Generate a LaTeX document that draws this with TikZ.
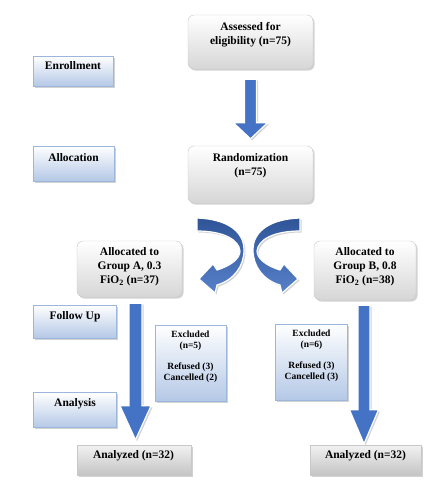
\documentclass[tikz,border=0pt]{standalone}
\usepackage{fontspec}
\setmainfont{Liberation Serif}
\usetikzlibrary{calc,shadows}
\definecolor{arrowblue}{HTML}{4472C4}
\definecolor{arrowdark}{HTML}{2F5597}
\definecolor{boxline}{HTML}{C8C8C8}
\definecolor{boxgraybot}{HTML}{D6D6D6}
\definecolor{recttop}{HTML}{F2F2F2}
\definecolor{rectbot}{HTML}{C4C4C4}
\definecolor{bluetop}{HTML}{FFFFFF}
\definecolor{bluebot}{HTML}{B4C8E6}
\definecolor{blueline}{HTML}{9DB6DC}
\newcommand\vblockarrow[6]{%
  \path[#1] let \p1=(#2), \p2=(#3) in
    (\x1-#4,\y1) -- (\x1+#4,\y1) -- (\x1+#4,\y2+#6) -- (\x1+#5,\y2+#6)
    -- (\x1,\y2) -- (\x1-#5,\y2+#6) -- (\x1-#4,\y2+#6) -- cycle;}
\begin{document}
\begin{tikzpicture}[x=1pt,y=-1pt,
  shadowed/.style={drop shadow={opacity=0.35,shadow xshift=1.5pt,shadow yshift=-1.5pt}},
  graybox/.style={draw=boxline,rounded corners=6pt,top color=white,bottom color=boxgraybot,shadowed,inner sep=0pt},
  grayrect/.style={draw=boxline,top color=recttop,bottom color=rectbot,shadowed,inner sep=0pt},
  bluebox/.style={draw=blueline,top color=bluetop,bottom color=bluebot,shadowed,inner sep=0pt},
  txt/.style={align=center,inner sep=0pt,font=\bfseries\fontsize{11.5}{14}\selectfont},
  smalltxt/.style={align=center,inner sep=0pt,font=\bfseries\fontsize{9.5}{11}\selectfont},
  barrow/.style={fill=arrowblue,draw=white,line width=1.2pt,line join=miter,shadowed},
  carrow/.style={top color=arrowdark,bottom color=arrowblue!90!white,draw=white,line width=1.2pt,shadowed}]
\useasboundingbox (0,0) rectangle (437,499);
\fill[white] (0,0) rectangle (437,499);

% boxes
\node[graybox,minimum width=125pt,minimum height=54pt] (assess) at (250.5,42) {};
\node[bluebox,minimum width=80pt,minimum height=30pt] (enroll) at (73,71) {};
\node[bluebox,minimum width=81pt,minimum height=35pt] (alloc) at (73.5,163.5) {};
\node[graybox,minimum width=125pt,minimum height=57pt] (rand) at (250.5,174.5) {};
\node[graybox,minimum width=105pt,minimum height=56pt] (boxA) at (129.5,269) {};
\node[graybox,minimum width=102pt,minimum height=59pt] (boxB) at (365,270.5) {};
\node[bluebox,minimum width=83pt,minimum height=33pt] (follow) at (74.5,321.5) {};
\node[bluebox,minimum width=71pt,minimum height=76pt] (exclA) at (190.5,363) {};
\node[bluebox,minimum width=72pt,minimum height=76pt] (exclB) at (311,362) {};
\node[bluebox,minimum width=83pt,minimum height=35pt] (analysis) at (74.5,410) {};
\node[grayrect,minimum width=114pt,minimum height=30pt] (anA) at (134,460) {};
\node[grayrect,minimum width=111pt,minimum height=30pt] (anB) at (365.5,460) {};

% texts
\node[txt] (assessT) at (250.5,35) {Assessed for\\eligibility (n=75)};
\node[txt] (enrollT) at (73,65.5) {Enrollment};
\node[txt] (allocT) at (73.5,157.5) {Allocation};
\node[txt] (randT) at (250.5,165.5) {Randomization\\(n=75)};
\node[txt] (grpAT) at (129.5,266.5) {Allocated to\\Group A, 0.3\\FiO\textsubscript{2} (n=37)};
\node[txt] (grpBT) at (365,266.5) {Allocated to\\Group B, 0.8\\FiO\textsubscript{2} (n=38)};
\node[txt] (followT) at (75,316.5) {Follow Up};
\node[smalltxt] (exclAT) at (190.5,357) {Excluded\\(n=5)\\[10pt]Refused (3)\\Cancelled (2)};
\node[smalltxt] (exclBT) at (311.5,355.5) {Excluded\\(n=6)\\[10pt]Refused (3)\\Cancelled (3)};
\node[txt] (analysisT) at (75,403.5) {Analysis};
\node[txt] (anAT) at (133.5,455.5) {Analyzed (n=32)};
\node[txt] (anBT) at (365.5,455.5) {Analyzed (n=32)};

% straight block arrows
\vblockarrow{barrow}{[yshift=-10pt]assess.south}{[yshift=7pt]rand.north}{6pt}{17pt}{16pt}
\vblockarrow{barrow}{[xshift=6pt,yshift=-6pt]boxA.south}{[xshift=1.5pt,yshift=5pt]anA.north}{6.5pt}{15.5pt}{34pt}
\vblockarrow{barrow}{[xshift=-1pt,yshift=-5pt]boxB.south}{[xshift=-1.5pt,yshift=1pt]anB.north}{6pt}{14.5pt}{34pt}

% curved arrows
\path[carrow] (197,218) .. controls (225,219) and (244,230) .. (244,250)
  .. controls (244,266) and (234,280) .. (217,285)
  -- (215,293) -- (199,279) -- (213,264) -- (217,270)
  .. controls (230,266) and (240,259) .. (240,251)
  .. controls (239,240) and (224,231) .. (197,231) -- cycle;
\path[carrow] (300,218) .. controls (272,219) and (253,230) .. (253,250)
  .. controls (253,266) and (263,280) .. (280,285)
  -- (282,293) -- (298,279) -- (284,264) -- (280,270)
  .. controls (267,266) and (257,259) .. (257,251)
  .. controls (258,240) and (273,231) .. (300,231) -- cycle;
\end{tikzpicture}
\end{document}
